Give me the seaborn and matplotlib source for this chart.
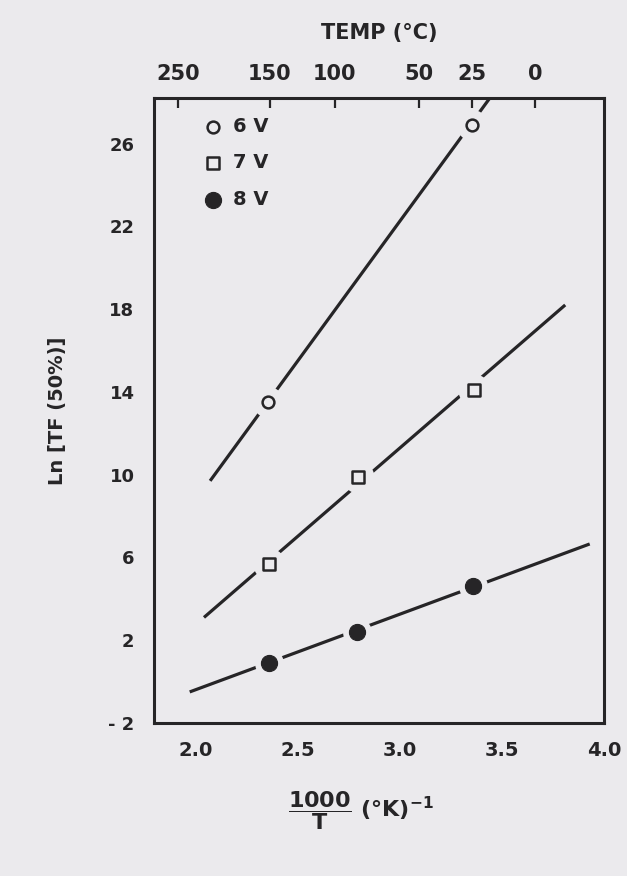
import matplotlib
matplotlib.use("Agg")
import matplotlib.pyplot as plt
import seaborn as sns
from matplotlib.ticker import MultipleLocator, FixedLocator

# ---- data ----
inv_t_6v = [2.353, 3.355]
ln_tf_6v = [13.5, 26.9]
inv_t_7v = [2.357, 2.793, 3.361]
ln_tf_7v = [5.7, 9.9, 14.1]
inv_t_8v = [2.358, 2.788, 3.359]
ln_tf_8v = [0.9, 2.4, 4.6]

fit_x_6v = [2.07, 3.50]
fit_y_6v = [9.7, 29.0]
fit_x_7v = [2.04, 3.81]
fit_y_7v = [3.1, 18.2]
fit_x_8v = [1.97, 3.93]
fit_y_8v = [-0.5, 6.65]

series_labels = ["6 V", "7 V", "8 V"]
x_ticks = [2.0, 2.5, 3.0, 3.5, 4.0]
x_tick_labels = ["2.0", "2.5", "3.0", "3.5", "4.0"]
y_ticks = [-2, 2, 6, 10, 14, 18, 22, 26]
y_tick_labels = ["- 2", "2", "6", "10", "14", "18", "22", "26"]
temp_ticks = [250, 150, 100, 50, 25, 0]

# ---- style ----
sns.set_theme(style="white")
plt.rcParams["font.family"] = ["DejaVu Sans"]
plt.rcParams["axes.unicode_minus"] = False
plt.rcParams["mathtext.fontset"] = "custom"
plt.rcParams["mathtext.rm"] = "DejaVu Sans:bold"
plt.rcParams["mathtext.it"] = "DejaVu Sans:bold"
plt.rcParams["mathtext.bf"] = "DejaVu Sans:bold"

ink = "#262527"
bg = "#ebeaed"
fw = "bold"

fig = plt.figure(figsize=(6.27, 8.76), dpi=100, facecolor=bg)
ax = fig.add_axes([0.2456, 0.1747, 0.7177, 0.7134])
ax.set_facecolor(bg)

# fit lines
for fx, fy in [(fit_x_6v, fit_y_6v), (fit_x_7v, fit_y_7v), (fit_x_8v, fit_y_8v)]:
    sns.lineplot(x=fx, y=fy, ax=ax, color=ink, lw=2.3, solid_capstyle="butt",
                 zorder=2, sort=False)

# halos (gaps in the lines around markers)
for xs, ys, hs in [(inv_t_6v, ln_tf_6v, 500), (inv_t_7v, ln_tf_7v, 530), (inv_t_8v, ln_tf_8v, 430)]:
    sns.scatterplot(x=xs, y=ys, ax=ax, marker="o", s=hs, color=bg, edgecolor=bg,
                    linewidth=0, zorder=3)

# markers
sns.scatterplot(x=inv_t_6v, y=ln_tf_6v, ax=ax, marker="o", s=72, facecolor=bg,
                edgecolor=ink, linewidth=1.8, zorder=4, label=series_labels[0])
sns.scatterplot(x=inv_t_7v, y=ln_tf_7v, ax=ax, marker="s", s=70, facecolor=bg,
                edgecolor=ink, linewidth=1.8, zorder=4, label=series_labels[1])
sns.scatterplot(x=inv_t_8v, y=ln_tf_8v, ax=ax, marker="o", s=135, color=ink,
                edgecolor=ink, linewidth=0.8, zorder=4, label=series_labels[2])

ax.set_xlim(1.795, 4.0)
ax.set_ylim(-2, 28.2)

ax.xaxis.set_major_locator(FixedLocator(x_ticks))
ax.set_xticklabels(x_tick_labels)
ax.yaxis.set_major_locator(FixedLocator(y_ticks))
ax.set_yticklabels(y_tick_labels)
ax.yaxis.set_minor_locator(MultipleLocator(2))

for s in ax.spines.values():
    s.set_color(ink)
    s.set_linewidth(2.2)

ax.tick_params(axis="both", which="both", direction="in", color=ink, width=1.6,
               labelcolor=ink)
ax.tick_params(axis="x", which="major", length=7, pad=13, labelsize=14)
ax.tick_params(axis="y", which="major", length=8, pad=14, labelsize=13)
ax.tick_params(axis="y", which="minor", length=8)
for lab in ax.get_xticklabels() + ax.get_yticklabels():
    lab.set_fontweight(fw)

# top temperature axis
def inv_to_c(x):
    return 1000.0 / x - 273.15

def c_to_inv(c):
    return 1000.0 / (c + 273.15)

sec = ax.secondary_xaxis("top", functions=(inv_to_c, c_to_inv))
sec.xaxis.set_major_locator(FixedLocator(temp_ticks))
sec.set_xticklabels([str(t) for t in temp_ticks])
sec.tick_params(direction="in", length=7, width=1.6, color=ink, labelcolor=ink,
                labelsize=15, pad=10)
sec.spines["top"].set_visible(False)
for lab in sec.get_xticklabels():
    lab.set_fontweight(fw)
sec.set_xlabel("TEMP (°C)", fontsize=15, color=ink, labelpad=18, fontweight=fw)

ax.set_ylabel("Ln [TF (50%)]", fontsize=14, color=ink, labelpad=30, fontweight=fw)
ax.set_xlabel(r"$\dfrac{1000}{\mathrm{T}}$ (°K)$^{-1}$", fontsize=16, color=ink,
              fontweight=fw)
ax.xaxis.set_label_coords(0.46, -0.106)

leg = ax.legend(loc="upper left", bbox_to_anchor=(0.11, 0.97), frameon=False,
                fontsize=14, handlelength=1.0, handletextpad=0.5, labelspacing=0.9,
                borderpad=0, borderaxespad=0)
for t in leg.get_texts():
    t.set_color(ink)
    t.set_fontweight(fw)

fig.savefig("out.png", dpi=100, facecolor=bg)
